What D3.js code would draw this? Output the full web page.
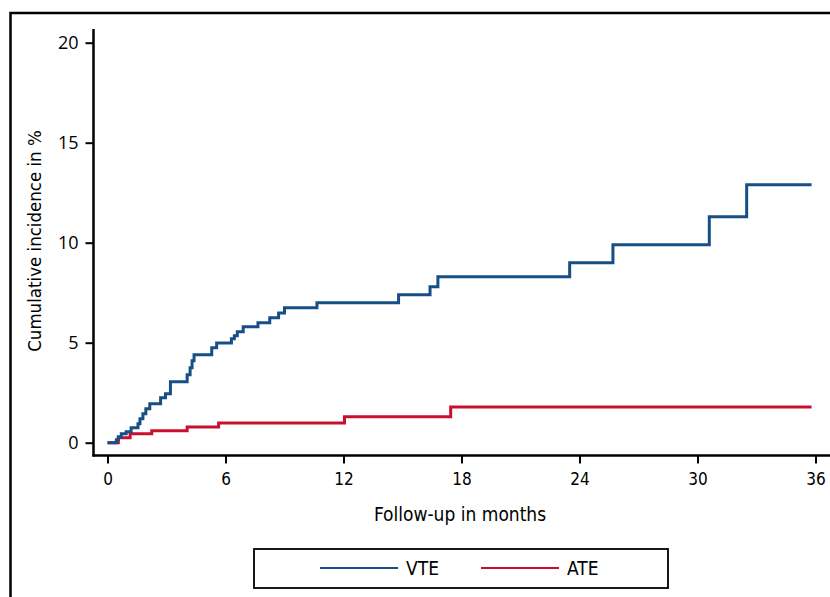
<!DOCTYPE html>
<html lang="en">
<head>
  <meta charset="UTF-8">
  <title>Cumulative incidence</title>
  <style>
    body { margin: 0; background: #fff; }
    .cond { font-family: "Liberation Sans Narrow", "DejaVu Sans Condensed", "Roboto Condensed", sans-serif; font-stretch: condensed; }
  </style>
</head>
<body>
  <div id="chart"></div>
  <script src="https://d3js.org/d3.v7.min.js"></script>
  <script>
    // step data: time in months, cumulative incidence in %
    const vteTime = [0, 0.45, 0.55, 0.7, 0.95, 1.2, 1.55, 1.65, 1.8, 1.95, 2.15, 2.7, 2.95, 3.2,
      4.05, 4.2, 4.3, 4.4, 5.3, 5.55, 6.3, 6.45, 6.6, 6.9, 7.65, 8.25, 8.7, 9.0,
      10.65, 14.8, 16.4, 16.8, 23.5, 25.7, 30.6, 32.5, 35.8];
    const vteValue = [0, 0.15, 0.3, 0.45, 0.55, 0.75, 0.95, 1.2, 1.45, 1.7, 1.95, 2.25, 2.45, 3.05,
      3.4, 3.75, 4.1, 4.4, 4.75, 4.98, 5.2, 5.35, 5.55, 5.8, 6.0, 6.25, 6.48, 6.75,
      7.0, 7.4, 7.8, 8.3, 9.0, 9.9, 11.3, 12.9, 12.9];

    const ateTime = [0, 0.55, 1.15, 2.25, 4.05, 5.65, 12.05, 17.45, 35.8];
    const ateValue = [0, 0.25, 0.45, 0.6, 0.78, 0.98, 1.3, 1.78, 1.78];

    const xTicks = [0, 6, 12, 18, 24, 30, 36];
    const yTicks = [0, 5, 10, 15, 20];
    const seriesNames = ["VTE", "ATE"];
    const seriesColors = ["#154f86", "#c8102e"];

    const width = 830, height = 597;

    const svg = d3.select("#chart")
      .append("svg")
      .attr("width", width)
      .attr("height", height);

    // outer frame (runs off the right and bottom edge)
    svg.append("rect")
      .attr("x", 10.5).attr("y", 13)
      .attr("width", 900).attr("height", 700)
      .attr("fill", "none")
      .attr("stroke", "#000")
      .attr("stroke-width", 2.5);

    const x = d3.scaleLinear().domain([0, 36]).range([107.5, 815.5]);
    const y = d3.scaleLinear().domain([0, 20]).range([442.7, 42.7]);

    const axisX = 93.5, axisY = 455.5;

    // x axis
    const gx = svg.append("g")
      .attr("transform", `translate(0,${axisY})`)
      .call(d3.axisBottom(x).tickValues(xTicks).tickSize(8).tickSizeOuter(0).tickPadding(9));
    gx.select(".domain").remove();
    gx.selectAll(".tick line").attr("stroke-width", 2);
    gx.selectAll(".tick text")
      .attr("class", "cond")
      .attr("font-size", 17)
      .attr("fill", "#000");

    svg.append("line")
      .attr("x1", axisX - 1).attr("x2", width)
      .attr("y1", axisY).attr("y2", axisY)
      .attr("stroke", "#000").attr("stroke-width", 2.5);

    // y axis
    const gy = svg.append("g")
      .attr("transform", `translate(${axisX},0)`)
      .call(d3.axisLeft(y).tickValues(yTicks).tickSize(8).tickSizeOuter(0).tickPadding(7));
    gy.select(".domain").remove();
    gy.selectAll(".tick line").attr("stroke-width", 2);
    gy.selectAll(".tick text")
      .attr("font-family", "'Open Sans', 'Liberation Sans', sans-serif")
      .attr("font-size", 18)
      .attr("fill", "#000");

    svg.append("line")
      .attr("x1", axisX).attr("x2", axisX)
      .attr("y1", 29).attr("y2", axisY + 1)
      .attr("stroke", "#000").attr("stroke-width", 2.5);

    // axis titles
    svg.append("text")
      .attr("class", "cond")
      .attr("transform", "translate(41,241) rotate(-90)")
      .attr("text-anchor", "middle")
      .attr("font-size", 18.5)
      .text("Cumulative incidence in %");

    svg.append("text")
      .attr("class", "cond")
      .attr("x", 460).attr("y", 521)
      .attr("text-anchor", "middle")
      .attr("font-size", 19)
      .text("Follow-up in months");

    // step curves
    const line = d3.line()
      .x(d => x(d[0]))
      .y(d => y(d[1]))
      .curve(d3.curveStepAfter);

    const series = [
      d3.zip(vteTime, vteValue),
      d3.zip(ateTime, ateValue)
    ];

    // draw ATE first so VTE sits on top
    svg.append("g")
      .selectAll("path")
      .data([1, 0])
      .join("path")
      .attr("d", i => line(series[i]))
      .attr("fill", "none")
      .attr("stroke", i => seriesColors[i])
      .attr("stroke-width", 3);

    // legend
    const lg = svg.append("g");
    lg.append("rect")
      .attr("x", 254).attr("y", 549)
      .attr("width", 414).attr("height", 39)
      .attr("fill", "#fff")
      .attr("stroke", "#000")
      .attr("stroke-width", 1.8);

    const items = lg.selectAll(".item")
      .data(seriesNames)
      .join("g")
      .attr("class", "item")
      .attr("transform", (d, i) => `translate(${320 + i * 161},568)`);

    items.append("line")
      .attr("x1", 0).attr("x2", 78)
      .attr("stroke", (d, i) => seriesColors[i])
      .attr("stroke-width", 2.2);

    items.append("text")
      .attr("class", "cond")
      .attr("x", 86).attr("y", 7)
      .attr("font-size", 19)
      .text(d => d);
  </script>
</body>
</html>
